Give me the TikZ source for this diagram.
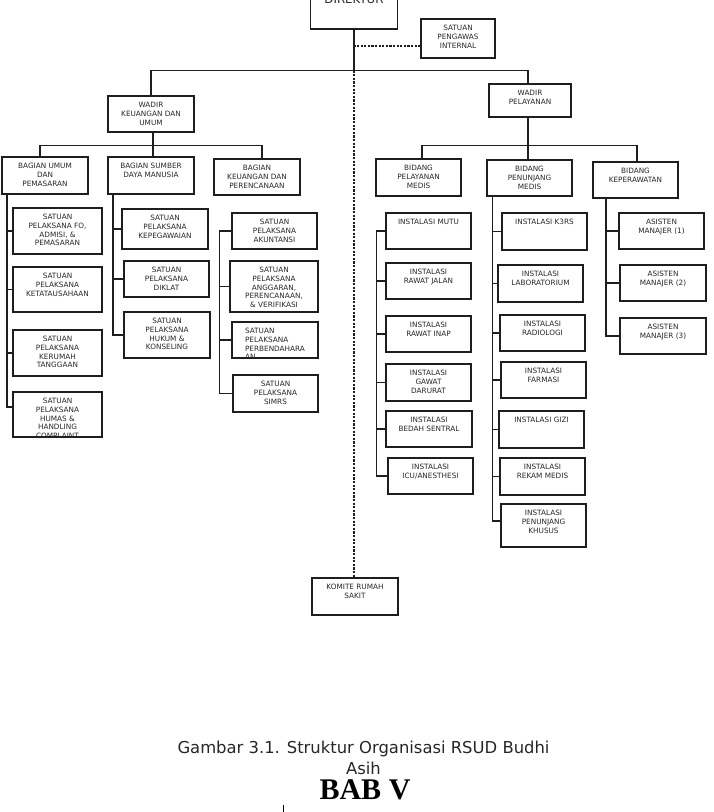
\documentclass[tikz,border=0pt]{standalone}
\usepackage{fontspec}
\setmainfont{DejaVu Sans}
\newfontfamily\babfont{Liberation Serif}
\usetikzlibrary{positioning}
\definecolor{rsline}{HTML}{1E1E1E}
\definecolor{rstext}{HTML}{262626}

\begin{document}
\begin{tikzpicture}[x=1pt, y=-1pt,
      ob/.style={draw=rsline, line width=1.3pt, minimum width=85pt, minimum height=36pt, inner sep=0pt},
      lb/.style={anchor=north, align=center, inner sep=0pt, yshift=-6.8pt, text=rstext,
                 font=\fontsize{7.3}{8.7}\selectfont},
      cn/.style={draw=rsline, line width=1.1pt},
      dsh/.style={cn, dash pattern=on 2.2pt off 1.4pt}]

      \useasboundingbox (0,0) rectangle (713,812);

      % pimpinan
      \node[ob, minimum width=87pt, minimum height=60pt, text=rstext, font=\fontsize{11.8}{14}\selectfont] (dir) at (354,-1) {DIREKTUR};
      \node[ob, minimum width=74pt, minimum height=39pt, label={[lb]north:{SATUAN\\PENGAWAS\\INTERNAL}}] (spi) at (458,38.5) {};
      \node[ob, minimum width=86pt, label={[lb]north:{WADIR\\KEUANGAN DAN\\UMUM}}] (wk) at (151,114) {};
      \node[ob, minimum width=82pt, minimum height=33pt, label={[lb]north:{WADIR\\PELAYANAN}}] (wp) at (530,100.5) {};

      % bagian / bidang
      \node[ob, minimum width=86pt, minimum height=37pt, label={[lb]north:{BAGIAN UMUM\\DAN\\PEMASARAN}}] (bu) at (45,175.5) {};
      \node[ob, minimum width=86pt, minimum height=37pt, label={[lb]north:{BAGIAN SUMBER\\DAYA MANUSIA}}] (bsdm) at (151,175.5) {};
      \node[ob, minimum width=86pt, label={[lb]north:{BAGIAN\\KEUANGAN DAN\\PERENCANAAN}}] (bkp) at (257,177) {};
      \node[ob, minimum height=37pt, label={[lb]north:{BIDANG\\PELAYANAN\\MEDIS}}] (bpm) at (418.5,177.5) {};
      \node[ob, label={[lb]north:{BIDANG\\PENUNJANG\\MEDIS}}] (bpjm) at (529.5,178) {};
      \node[ob, label={[lb]north:{BIDANG\\KEPERAWATAN}}] (bkep) at (635.5,180) {};

      % satuan pelaksana
      \node[ob, minimum width=89pt, minimum height=46pt, label={[lb]north:{SATUAN\\PELAKSANA FO,\\ADMISI, \&\\PEMASARAN}}] (fo) at (57.5,231) {};
      \node[ob, minimum width=89pt, minimum height=45pt, label={[lb]north:{SATUAN\\PELAKSANA\\KETATAUSAHAAN}}] (ket) at (57.5,289.5) {};
      \node[ob, minimum width=89pt, minimum height=46pt, label={[lb]north:{SATUAN\\PELAKSANA\\KERUMAH\\TANGGAAN}}] (kr) at (57.5,353) {};
      \node[ob, minimum width=89pt, minimum height=45pt, label={[lb]north:{SATUAN\\PELAKSANA\\HUMAS \&\\HANDLING\\COMPLAINT}}] (hum) at (57.5,414.5) {};

      \node[ob, minimum width=86pt, minimum height=40pt, label={[lb]north:{SATUAN\\PELAKSANA\\KEPEGAWAIAN}}] (kep) at (165,229) {};
      \node[ob, label={[lb]north:{SATUAN\\PELAKSANA\\DIKLAT}}] (dik) at (166.5,279) {};
      \node[ob, minimum width=86pt, minimum height=46pt, label={[lb]north:{SATUAN\\PELAKSANA\\HUKUM \&\\KONSELING}}] (huk) at (167,335) {};

      \node[ob, label={[lb]north:{SATUAN\\PELAKSANA\\AKUNTANSI}}] (akun) at (274.5,231) {};
      \node[ob, minimum width=88pt, minimum height=51pt, label={[lb]north:{SATUAN\\PELAKSANA\\ANGGARAN,\\PERENCANAAN,\\\& VERIFIKASI}}] (ang) at (274,286.5) {};
      \node[ob, minimum width=86pt, label={[lb, align=left]north:{SATUAN\\PELAKSANA\\PERBENDAHARA\\AN}}] (per) at (275,340) {};
      \node[ob, minimum height=37pt, label={[lb]north:{SATUAN\\PELAKSANA\\SIMRS}}] (sim) at (275.5,393.5) {};

      % instalasi
      \node[ob, label={[lb]north:{INSTALASI MUTU}}] (mutu) at (428.5,231) {};
      \node[ob, label={[lb]north:{INSTALASI\\RAWAT JALAN}}] (rj) at (428.5,281) {};
      \node[ob, label={[lb]north:{INSTALASI\\RAWAT INAP}}] (ri) at (428.5,334) {};
      \node[ob, minimum height=37pt, label={[lb]north:{INSTALASI\\GAWAT\\DARURAT}}] (gd) at (428.5,382.5) {};
      \node[ob, minimum width=86pt, label={[lb]north:{INSTALASI\\BEDAH SENTRAL}}] (bs) at (429,429) {};
      \node[ob, label={[lb]north:{INSTALASI\\ICU/ANESTHESI}}] (icu) at (430.5,476) {};

      \node[ob, minimum height=37pt, label={[lb]north:{INSTALASI K3RS}}] (k3) at (544.5,231.5) {};
      \node[ob, minimum height=37pt, label={[lb]north:{INSTALASI\\LABORATORIUM}}] (lab) at (540.5,283.5) {};
      \node[ob, label={[lb]north:{INSTALASI\\RADIOLOGI}}] (rad) at (542.5,333) {};
      \node[ob, label={[lb]north:{INSTALASI\\FARMASI}}] (far) at (543.5,380) {};
      \node[ob, minimum height=37pt, label={[lb]north:{INSTALASI GIZI}}] (giz) at (541.5,429.5) {};
      \node[ob, minimum height=37pt, label={[lb]north:{INSTALASI\\REKAM MEDIS}}] (rm) at (542.5,476.5) {};
      \node[ob, minimum height=43pt, label={[lb]north:{INSTALASI\\PENUNJANG\\KHUSUS}}] (pk) at (543.5,525.5) {};

      \node[ob, label={[lb]north:{ASISTEN\\MANAJER (1)}}] (am1) at (661.5,231) {};
      \node[ob, minimum width=86pt, label={[lb]north:{ASISTEN\\MANAJER (2)}}] (am2) at (663,283) {};
      \node[ob, minimum width=86pt, label={[lb]north:{ASISTEN\\MANAJER (3)}}] (am3) at (663,336) {};

      \node[ob, minimum width=86pt, minimum height=37pt, label={[lb]north:{KOMITE RUMAH\\SAKIT}}] (kom) at (355,596.5) {};

      % garis komando
      \draw[cn] (dir.south) -- ++(0,41) coordinate (tbus);
      \draw[cn] (wk.north) |- (tbus) -| ([xshift=-2]wp.north);
      \coordinate (spit) at ([yshift=-7.5]spi.west);
      \draw[dsh] (spit) -- (spit -| dir.south);
      \draw[dsh] (tbus) -- (tbus |- kom.north);

      \draw[cn] ([xshift=2]wk.south) -- ++(0,13) coordinate (kbus);
      \draw[cn] ([xshift=-5]bu.north) |- (kbus) -| ([xshift=5]bkp.north);
      \draw[cn] (kbus) -- (kbus |- bsdm.north);

      \draw[cn] ([xshift=-2]wp.south) -- ++(0,28) coordinate (pbus);
      \draw[cn] ([xshift=3.5]bpm.north) |- (pbus) -| ([xshift=1.5]bkep.north);
      \draw[cn] (pbus) -- (pbus |- bpjm.north);

      % kolom bawahan
      \coordinate (s1) at ([xshift=-38]bu.south);
      \draw[cn] (s1) |- ([yshift=7.5]hum.west);
      \foreach \n in {fo,ket,kr} \draw[cn] (\n.west) -- (\n.west -| s1);

      \coordinate (s2) at ([xshift=-38]bsdm.south);
      \draw[cn] (s2) |- (huk.west);
      \foreach \n in {kep,dik} \draw[cn] (\n.west) -- (\n.west -| s2);

      \coordinate (s3) at ([xshift=-12]akun.west);
      \draw[cn] (akun.west) -- (s3) |- (sim.west);
      \foreach \n in {ang,per} \draw[cn] (\n.west) -- (\n.west -| s3);

      \coordinate (s4) at ([xshift=-9]mutu.west);
      \draw[cn] (mutu.west) -- (s4) |- (icu.west);
      \foreach \n in {rj,ri,gd,bs} \draw[cn] (\n.west) -- (\n.west -| s4);

      \coordinate (s5) at ([xshift=-37]bpjm.south);
      \draw[cn] (s5) |- ([yshift=4.5]pk.west);
      \foreach \n in {k3,lab,rad,far,giz,rm} \draw[cn] (\n.west) -- (\n.west -| s5);

      \coordinate (s6) at ([xshift=-29.5]bkep.south);
      \draw[cn] (s6) |- (am3.west);
      \foreach \n in {am1,am2} \draw[cn] (\n.west) -- (\n.west -| s6);

      % keterangan
      \node[anchor=north, align=center, inner sep=0pt, text=rstext, font=\fontsize{16.4}{20.5}\selectfont] (capt) at (363.5,741) {Gambar 3.1. Struktur Organisasi RSUD Budhi\\Asih};
      \node[anchor=base, inner sep=0pt, font=\babfont\bfseries\fontsize{30}{34}\selectfont] (bab) at (365,799) {BAB V};
      \draw[line width=0.8pt] (283,805) -- (283,812);
    \end{tikzpicture}
\end{document}
